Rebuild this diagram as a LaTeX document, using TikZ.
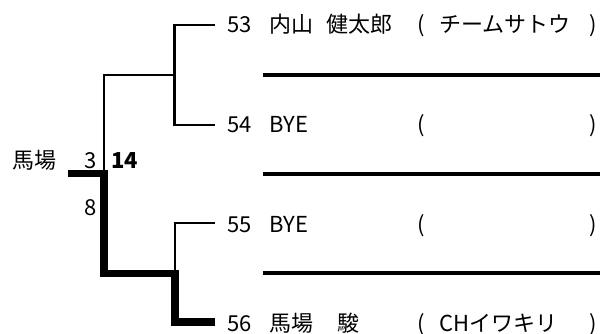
\documentclass[tikz,border=0pt]{standalone}
\usepackage{fontspec}
\newfontfamily\jp{Noto Sans CJK JP}
\begin{document}
\begin{tikzpicture}[x=1pt,y=-1pt,
  txt/.style={font=\jp\fontsize{22}{22}\selectfont, inner sep=0pt, anchor=base west},
  thinln/.style={line width=2.5pt},
  sepln/.style={line width=3.5pt},
  winln/.style={line width=7.5pt, line join=miter}]
\useasboundingbox (0,0) rectangle (600,334);
% text nodes
\node[txt] (r53n) at (227,33) {53};
\node[txt] (r53p) at (269,33) {内山};
\node[txt] (r53q) at (326,33) {健太郎};
\node[txt] (r53l) at (417,33) {(};
\node[txt] (r53t) at (439,33) {チームサトウ};
\node[txt] (r53r) at (589,33) {)};
\node[txt] (r54n) at (227,133) {54};
\node[txt] (r54p) at (269,133) {BYE};
\node[txt] (r54l) at (417,133) {(};
\node[txt] (r54r) at (589,133) {)};
\node[txt] (r55n) at (227,232) {55};
\node[txt] (r55p) at (269,232) {BYE};
\node[txt] (r55l) at (417,232) {(};
\node[txt] (r55r) at (589,232) {)};
\node[txt] (r56n) at (227,331) {56};
\node[txt] (r56p) at (269,331) {馬場};
\node[txt] (r56q) at (337,331) {駿};
\node[txt] (r56l) at (417,331) {(};
\node[txt] (r56t) at (439,331) {CHイワキリ};
\node[txt] (r56r) at (589,331) {)};
\node[txt] (win) at (12,168) {馬場};
\node[txt] (s3) at (84,168) {3};
\node[txt,font=\jp\bfseries\fontsize{22}{22}\selectfont] (s14) at (111,168) {14};
\node[txt] (s8) at (84,215) {8};
% coordinates
\coordinate (e53) at (215,25);
\coordinate (e54) at (215,125);
\coordinate (e55) at (215,223);
\coordinate (e56) at (215,322);
\coordinate (b1) at (174.5,75);
\coordinate (b2) at (175,273.5);
\coordinate (root) at (104,173.5);
\coordinate (rootend) at (68,173.5);
\coordinate (sa1) at (263,75);  \coordinate (sa2) at (600,75);
\coordinate (sb1) at (263,174); \coordinate (sb2) at (600,174);
\coordinate (sc1) at (263,273); \coordinate (sc2) at (600,273);
% separators
\draw[sepln] (sa1) -- (sa2);
\draw[sepln] (sb1) -- (sb2);
\draw[sepln] (sc1) -- (sc2);
% bracket lines
\draw[thinln] (e53) -| (b1) |- (e54);
\draw[thinln] (root) |- (b1);
\draw[thinln] (e55) -| (b2);
\draw[winln] (rootend) -| (root) |- (b2) |- (e56);
\end{tikzpicture}
\end{document}
